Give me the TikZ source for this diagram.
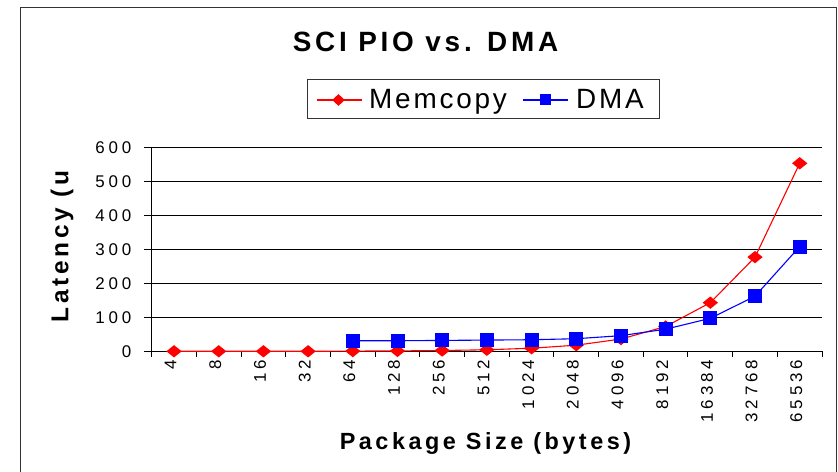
\documentclass[tikz,border=0pt]{standalone}
\usepackage{fontspec}
\setmainfont{Liberation Sans}
\usetikzlibrary{shapes.geometric}
% letter-spaced faces used by the chart
\newfontfamily\titleface[LetterSpace=13.5]{Liberation Sans}
\newfontfamily\legendface[LetterSpace=10]{Liberation Sans}
\newfontfamily\tickface[LetterSpace=23]{Liberation Sans}
\newfontfamily\axisface[LetterSpace=15]{Liberation Sans}
\begin{document}
\begin{tikzpicture}[x=1bp,y=-1bp,
  gridline/.style={black, line width=1bp},
  memline/.style={red, line width=1.1bp},
  dmaline/.style={blue, line width=1.1bp},
  memmark/.style={fill=red, draw=none, shape=diamond, inner sep=0pt,
    minimum width=15.5bp, minimum height=12.5bp},
  dmamark/.style={fill=blue, draw=none, rectangle, inner sep=0pt,
    minimum size=14bp},
  ylbl/.style={anchor=east, inner sep=0pt, font=\tickface\fontsize{17}{19}\selectfont},
  xlbl/.style={anchor=east, rotate=90, inner sep=0pt, font=\tickface\fontsize{17}{19}\selectfont},
]
\useasboundingbox (0,0) rectangle (838,472);
\clip (0,0) rectangle (838,472);

% outer chart frame
\draw[line width=1.3bp, draw=black!80] (20.5,7.5) rectangle (836.5,490);

% title
\node[anchor=base, inner sep=0pt, font=\titleface\bfseries\fontsize{28}{32}\selectfont]
  (title) at (425.5,52) {SCI PIO vs. DMA};

% legend
\node[draw=black!80, line width=1bp, anchor=north west, inner sep=0pt,
  minimum width=352bp, minimum height=39bp] (legend) at (307,79) {};
\coordinate (lm1) at (317,100);
\coordinate (lm2) at (362,100);
\coordinate (ld1) at (523,100);
\coordinate (ld2) at (568,100);
\draw[memline] (lm1) -- (lm2);
\node[memmark, minimum width=12.5bp, minimum height=12bp] (lmk) at (338.5,100) {};
\node[anchor=base west, inner sep=0pt, font=\legendface\fontsize{28}{32}\selectfont]
  (lmtext) at (369,108.3) {Memcopy};
\draw[dmaline] (ld1) -- (ld2);
\node[dmamark, minimum size=11bp] (ldk) at (545.5,100) {};
\node[anchor=base west, inner sep=0pt, font=\legendface\fontsize{28}{32}\selectfont]
  (ldtext) at (576,108.3) {DMA};

% horizontal grid and value labels
\foreach \v/\t in {0/0,1/100,2/200,3/300,4/400,5/500,6/600}{
  \draw[gridline] (144,{351.3-34*\v}) -- (822,{351.3-34*\v});
  \node[ylbl] (yl\v) at (131.5,{351.3-34*\v}) {\t};
}
% axes and category ticks
\draw[gridline] (151.7,147) -- (151.7,356.7);
\foreach \k in {1,...,15}
  \draw[gridline] ({151.7+44.69*\k},351.3) -- ++(0,5.4);

% category labels
\foreach \t [count=\i] in {4,8,16,32,64,128,256,512,1024,2048,4096,8192,16384,32768,65536}
  \node[xlbl] (xl\i) at ({151.7+44.69*(\i-0.5)-3.4},359.5) {\t};

% axis titles
\node[anchor=base, inner sep=0pt, font=\axisface\bfseries\fontsize{23.5}{28}\selectfont]
  (xtitle) at (485.5,449.3) {Package Size (bytes)};
\node[anchor=base, rotate=90, inner sep=0pt, font=\axisface\bfseries\fontsize{24.5}{28}\selectfont]
  (ytitle) at (68.3,246.5) {Latency (u};

% data points
\foreach \v [count=\i] in {0,0,0,0,0.6,1.1,2.3,4.5,9,18,36,73,143,277,553}
  \coordinate (m\i) at ({151.7+44.69*(\i-0.5)},{351.3-0.34*\v});
\foreach \v [count=\i from 5] in {31,31,32,33,34,37,46,65,97,162,308}
  \coordinate (d\i) at ({151.7+44.69*(\i-0.5)},{351.3-0.34*\v});

% series lines
\draw[memline] (m1) \foreach \i in {2,...,15}{ -- (m\i)};
\draw[dmaline] (d5) \foreach \i in {6,...,15}{ -- (d\i)};

% series markers
\foreach \i in {1,...,15}
  \node[memmark] (mk\i) at (m\i) {};
\foreach \i in {5,...,15}
  \node[dmamark] (dk\i) at (d\i) {};
\end{tikzpicture}
\end{document}
